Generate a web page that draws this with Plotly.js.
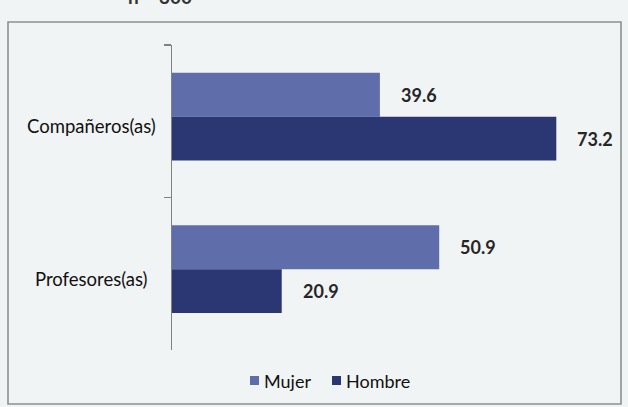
<!DOCTYPE html>
<html>
<head>
<meta charset="utf-8">
<script src="https://cdn.plot.ly/plotly-3.0.1.min.js"></script>
<style>
  html, body { margin: 0; padding: 0; background: #f1f4f4; }
  #chart { width: 628px; height: 407px; }
</style>
</head>
<body>
<div id="chart"></div>
<script>
// ---- data ----
const categories = ["Compañeros(as)", "Profesores(as)"];
const mujer = [39.6, 50.9];
const hombre = [73.2, 20.9];
const seriesNames = ["Mujer", "Hombre"];
const subtitle = "n = 300";

// ---- styling ----
const W = 628, H = 407;
const M = { l: 172, r: 36, t: 45, b: 57 };
const PW = W - M.l - M.r, PH = H - M.t - M.b;
const xp = px => (px - M.l) / PW;
const yp = py => (H - M.b - py) / PH;
const colors = ["#5f6eaa", "#2b3773"];
const barW = 0.288;
const offsets = [-0.318, -0.03];
const FONT = "Lato, 'Open Sans', 'DejaVu Sans', sans-serif";

const series = [mujer, hombre];
const traces = series.map((vals, i) => ({
  type: "bar",
  orientation: "h",
  name: seriesNames[i],
  x: vals,
  y: categories,
  width: barW,
  offset: offsets[i],
  marker: { color: colors[i], line: { width: 0 } },
  hoverinfo: "x+name",
  showlegend: false
}));

const annotations = [];
// category labels
categories.forEach((c, j) => {
  annotations.push({
    text: c, xref: "paper", yref: "y", x: xp(91), y: j,
    xanchor: "center", yanchor: "middle", yshift: -5, showarrow: false,
    font: { family: FONT, size: 18.5, color: "#111111" }
  });
});
// value labels
series.forEach((vals, i) => {
  vals.forEach((v, j) => {
    annotations.push({
      text: v.toFixed(1), xref: "x", yref: "y", x: v,
      y: j + offsets[i] + barW / 2,
      xanchor: "left", yanchor: "middle", xshift: 19, showarrow: false,
      font: { family: FONT, size: 18, color: "#262626", weight: "bold" }
    });
  });
});
// legend text
const legendText = [{ x: 262 }, { x: 344 }];
seriesNames.forEach((n, i) => {
  annotations.push({
    text: n, xref: "paper", yref: "paper", x: xp(legendText[i].x), y: yp(381),
    xanchor: "left", yanchor: "middle", showarrow: false,
    font: { family: FONT, size: 18, color: "#111111" }
  });
});
// partial subtitle at top (cut off by the page edge, as in the scan)
annotations.push({
  text: subtitle, xref: "paper", yref: "paper", x: xp(160), y: yp(-4),
  xanchor: "center", yanchor: "middle", showarrow: false,
  font: { family: FONT, size: 19, color: "#333333", weight: "bold" }
});

const legendSq = [250, 332];
const shapes = [
  {
    type: "rect", xref: "paper", yref: "paper",
    x0: xp(8), x1: xp(621), y0: yp(404), y1: yp(22),
    line: { color: "#8a9090", width: 1.6 }, fillcolor: "rgba(0,0,0,0)", layer: "below"
  }
];
legendSq.forEach((sx, i) => {
  shapes.push({
    type: "rect", xref: "paper", yref: "paper",
    x0: xp(sx), x1: xp(sx + 9), y0: yp(385), y1: yp(376),
    line: { width: 0 }, fillcolor: colors[i]
  });
});

const layout = {
  width: W, height: H,
  margin: M,
  paper_bgcolor: "#f1f4f4",
  plot_bgcolor: "rgba(0,0,0,0)",
  showlegend: false,
  barmode: "overlay",
  font: { family: FONT },
  xaxis: { range: [0, 80], visible: false, fixedrange: true },
  yaxis: {
    type: "category",
    range: [1.5, -0.5],
    showticklabels: false,
    showgrid: false,
    zeroline: false,
    showline: true,
    linecolor: "#7d8282",
    linewidth: 1.5,
    ticks: "outside",
    tickson: "boundaries",
    ticklen: 7,
    tickwidth: 1.5,
    tickcolor: "#7d8282",
    fixedrange: true
  },
  annotations: annotations,
  shapes: shapes
};

Plotly.newPlot("chart", traces, layout, { displayModeBar: false, staticPlot: true });
</script>
</body>
</html>
